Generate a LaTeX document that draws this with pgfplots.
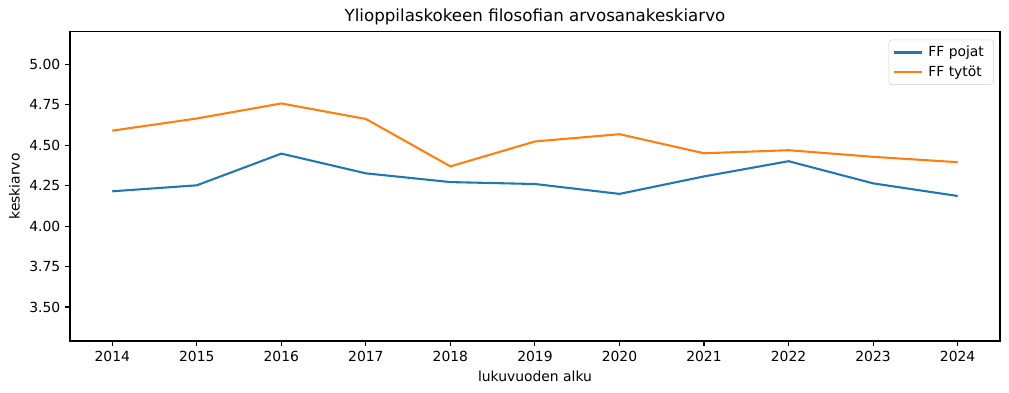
\documentclass[border=0pt]{standalone}
\usepackage{fontspec}
\setmainfont{DejaVu Sans}
\usepackage{pgfplots}
\pgfplotsset{compat=1.18}
\definecolor{tabblue}{HTML}{1F77B4}
\definecolor{taborange}{HTML}{FF7F0E}
\begin{document}
\begin{tikzpicture}
\begin{axis}[
  scale only axis,
  width=669.6pt, height=222.5pt,
  xmin=2013.5, xmax=2024.5,
  ymin=3.29, ymax=5.2,
  xtick={2014,...,2024},
  ytick={3.5,3.75,4,4.25,4.5,4.75,5},
  xticklabel style={/pgf/number format/.cd,set thousands separator={},assume math mode=true},
  yticklabel style={/pgf/number format/.cd,fixed,fixed zerofill,precision=2,assume math mode=true},
  tick align=outside,
  major tick length=3.5pt,
  tick style={black, line width=0.8pt},
  axis line style={line width=0.8pt},
  xtick pos=bottom, ytick pos=left,
  tick label style={font=\fontsize{10}{12}\selectfont},
  label style={font=\fontsize{10}{12}\selectfont},
  title style={font=\fontsize{12}{14}\selectfont, yshift=-4.5pt},
  title={Ylioppilaskokeen filosofian arvosanakeskiarvo},
  xlabel={lukuvuoden alku},
  ylabel={keskiarvo},
  legend cell align=left,
  legend style={font=\fontsize{10}{12}\selectfont, draw=gray!35, rounded corners=2pt, at={(0.9935,0.975)}, anchor=north east, inner xsep=3pt, inner ysep=2.5pt, row sep=1pt, nodes={inner xsep=4pt}},
  legend image code/.code={\draw[#1] (-2pt,0pt) -- (18pt,0pt);},
]
\addplot[tabblue, line width=1.5pt] coordinates {
(2014,4.215) (2015,4.252) (2016,4.448) (2017,4.326) (2018,4.272) (2019,4.260) (2020,4.199) (2021,4.307) (2022,4.401) (2023,4.264) (2024,4.186)
};
\addlegendentry{FF pojat}
\addplot[taborange, line width=1.5pt] coordinates {
(2014,4.590) (2015,4.665) (2016,4.758) (2017,4.662) (2018,4.369) (2019,4.523) (2020,4.568) (2021,4.450) (2022,4.469) (2023,4.428) (2024,4.395)
};
\addlegendentry{FF tytöt}
\end{axis}
\path (current axis.south west) ++(-50.4pt,-37.4pt) rectangle ([xshift=6.5pt,yshift=23pt]current axis.north east);
\end{tikzpicture}
\end{document}
